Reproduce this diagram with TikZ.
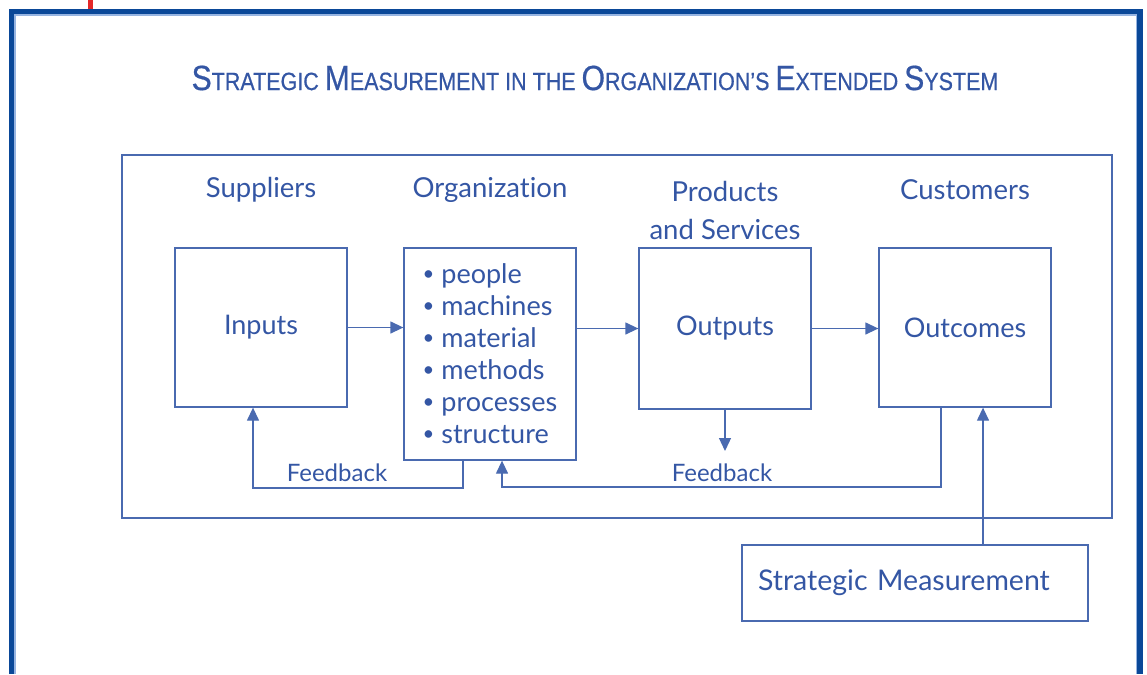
\documentclass[tikz,border=0pt]{standalone}
\usepackage{fontspec}
\setmainfont{Lato}[Ligatures=NoCommon]
\newfontfamily\titlefont[FakeStretch=0.86, FakeBold=0.6]{Liberation Sans}
\usetikzlibrary{arrows.meta, positioning, calc}

\definecolor{frameblue}{RGB}{10,72,152}
\definecolor{edgeblue}{RGB}{150,180,225}
\definecolor{lineblue}{RGB}{74,106,176}
\definecolor{textblue}{RGB}{52,86,164}
\definecolor{markred}{RGB}{228,40,40}

% small caps by hand: large initial, smaller rest
\newcommand{\capword}[2]{{\fontsize{35}{35}\selectfont #1}{\fontsize{25}{25}\selectfont #2}}
% small bullet for the list
\newcommand{\dotitem}{\raisebox{0.25ex}{\scalebox{0.75}{\textbullet}}\ }

\begin{document}
\begin{tikzpicture}[
    x=1pt, y=-1pt,
    every node/.style={text=textblue, font=\fontsize{27}{32}\selectfont}, % one size for the labels
    box/.style={draw=lineblue, line width=1.3pt, minimum width=172pt, inner sep=0pt},
    head/.style={align=center, font=\fontsize{27.5}{38}\selectfont},
    link/.style={lineblue, line width=1.3pt, -{Triangle[length=13pt, width=12pt]}},
    fbtext/.style={font=\fontsize{24}{26}\selectfont}
]
    \useasboundingbox (0,0) rectangle (1147,674);

    % page frame
    \fill[markred] (88,0) rectangle (93,9);
    \draw[frameblue, line width=5.5pt] (11.5,674) -- (11.5,11.5) -- (1140,11.5) -- (1140,674);
    \draw[edgeblue, line width=1.2pt] (15,674) -- (15,15) -- (1136.5,15) -- (1136.5,674);

    % title
    \node[font=\titlefont\fontsize{25}{25}\selectfont] (title) at (595,78)
        {\capword{S}{TRATEGIC} \capword{M}{EASUREMENT} \capword{}{IN THE} \capword{O}{RGANIZATION’S} \capword{E}{XTENDED} \capword{S}{YSTEM}};

    % extended system
    \node[draw=lineblue, line width=1.2pt, minimum width=990pt, minimum height=363pt] (system) at (617,336.5) {};

    % column heads
    \node[head] (suppliers) at (261,190) {Suppliers};
    \node[head] (organization) at (490,190) {Organization};
    \node[head] (products) at (725,210) {Products\\and Services};
    \node[head] (customers) at (965,190) {Customers};

    % boxes
    \node[box, minimum height=159pt] (inputs) at (261,327.5) {Inputs};
    \node[box, minimum height=212pt, align=left] (org) at (490,354)
        {\dotitem people\\ \dotitem machines\\ \dotitem material\\ \dotitem methods\\ \dotitem processes\\ \dotitem structure};
    \node[box, minimum height=161pt] (outputs) at (725,328.5) {Outputs};
    \node[box, minimum height=159pt] (outcomes) at (965,327.5) {Outcomes};
    \node[box, minimum width=346pt, minimum height=76pt, text width=314pt, inner xsep=16pt, align=left, font=\fontsize{28.5}{32}\selectfont] (strat) at (915,583)
        {Strategic Measurement};

    % forward flow
    \draw[link] (inputs.east) -- (inputs.east -| org.west);
    \draw[link] (outputs.west -| org.east) -- (outputs.west);
    \draw[link] (outputs.east) -- (outputs.east -| outcomes.west);

    % feedback loops
    \coordinate (fbL) at (463,488);
    \coordinate (fbLend) at (253,488);
    \draw[link] (fbL |- org.south) -- (fbL) -- (fbLend) -- (fbLend |- inputs.south);
    \node[fbtext] (fbLlabel) at (337,473) {Feedback};

    \coordinate (fbR) at (941,487);
    \coordinate (fbRend) at (502,487);
    \draw[link] (fbR |- outcomes.south) -- (fbR) -- (fbRend) -- (fbRend |- org.south);

    \coordinate (fbM) at (725,451);
    \draw[link] (outputs.south) -- (fbM);
    \node[fbtext] (fbMlabel) at (722,473) {Feedback};

    % measurement
    \coordinate (measure) at (983,545);
    \draw[link] (measure |- strat.north) -- (measure |- outcomes.south);
\end{tikzpicture}
\end{document}
